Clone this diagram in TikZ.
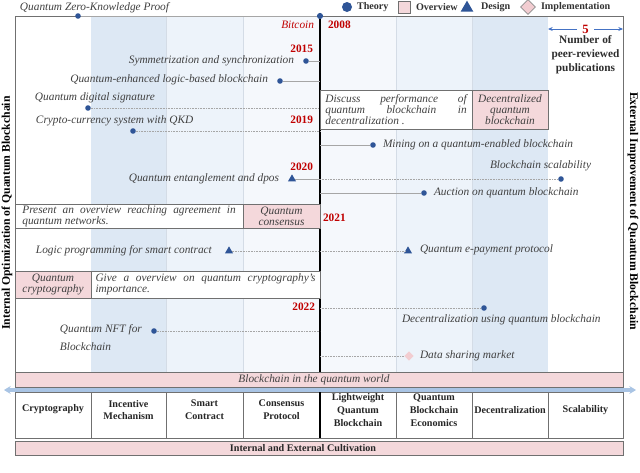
\documentclass[tikz,border=0pt]{standalone}
\usepackage{fontspec}
\setmainfont{Liberation Serif}
\usetikzlibrary{arrows.meta,shapes.geometric}
\definecolor{dotblue}{HTML}{2F5597}
\definecolor{yearred}{HTML}{C00000}
\definecolor{pinkf}{HTML}{F4D8DB}
\definecolor{pinkd}{HTML}{F2CDD1}
\definecolor{colA}{HTML}{DDE8F4}
\definecolor{colB}{HTML}{EDF3FA}
\definecolor{colC}{HTML}{F5F8FC}
\definecolor{colline}{HTML}{D4DCE6}
\definecolor{txtgray}{HTML}{404040}
\definecolor{boxgray}{HTML}{707070}
\definecolor{linegray}{HTML}{A6A6A6}
\definecolor{arrowblue}{HTML}{A9C4E4}
\definecolor{numblue}{HTML}{4472C4}
\begin{document}
\begin{tikzpicture}[x=0.75pt,y=-0.75pt,
  every node/.style={inner sep=0pt,outer sep=0pt},
  entry/.style={font=\fontsize{8.5}{8.3}\selectfont\itshape,text=txtgray},
  yr/.style={font=\fontsize{8.5}{9}\selectfont\bfseries,text=yearred},
  legtxt/.style={font=\fontsize{7.6}{9}\selectfont\bfseries,text=txtgray!80!black},
  cattxt/.style={font=\fontsize{7.6}{9.6}\selectfont\bfseries,text=black!85,align=center},
  side/.style={font=\fontsize{8.8}{10}\selectfont\bfseries,text=black},
  theory/.style={circle,fill=dotblue,minimum size=4.2pt},
  design/.style={regular polygon,regular polygon sides=3,fill=dotblue,minimum size=7pt},
  impl/.style={diamond,fill=pinkd,minimum size=7pt},
  conn/.style={draw=linegray,line width=0.5pt},
  connd/.style={conn,dash pattern=on 0.6pt off 0.6pt},
  wbox/.style={draw=boxgray,fill=white,line width=0.6pt,anchor=north west,entry,align=justify},
  pbox/.style={draw=boxgray,fill=pinkf,line width=0.6pt,anchor=north west,entry,align=center},
  cell/.style={draw=boxgray,fill=white,line width=0.6pt,anchor=north west,minimum height=34.5pt},
  pbar/.style={draw=boxgray,fill=pinkf,line width=0.6pt,anchor=north west,minimum width=456pt}
]
\fill[white] (0,0) rectangle (640,472);
\useasboundingbox (0,0) rectangle (640,472);

% column shading
\fill[colA] (91,16) rectangle (166,372);
\fill[colB] (166,16) rectangle (243,372);
\fill[colC] (243,16) rectangle (396,372);
\fill[colB] (396,16) rectangle (472,372);
\fill[colA] (472,16) rectangle (548,372);
\foreach \xx in {166,243,396,472}{\draw[colline,line width=0.5pt] (\xx,16) -- (\xx,372);}

% frame
\draw[boxgray,line width=0.6pt] (15,16) rectangle (623,438);

% axis
\coordinate (axtop) at (320,16);
\coordinate (axbot) at (320,372);
\draw[black,line width=1.1pt] (axtop) -- (axbot);

% legend
\node[theory,minimum size=7.5pt] (lgT) at (347,7) {};
\node[legtxt,anchor=west] (lgTt) at (357,7) {Theory};
\node[draw=boxgray,fill=pinkf,line width=0.5pt,minimum size=9pt] (lgO) at (404,7) {};
\node[legtxt,anchor=west] (lgOt) at (416,7) {Overview};
\node[design,minimum size=11pt] (lgD) at (467,8) {};
\node[legtxt,anchor=west] (lgDt) at (481,7) {Design};
\node[diamond,draw=boxgray!80,fill=pinkd,line width=0.5pt,minimum size=11pt] (lgI) at (528,7) {};
\node[legtxt,anchor=west] (lgIt) at (541,7) {Implementation};

% number of publications
\coordinate (n5l) at (548,29);
\coordinate (n5r) at (623,29);
\node[yr,font=\fontsize{9.5}{10}\selectfont\bfseries,inner xsep=4pt] (n5) at (585.5,29) {5};
\draw[numblue,line width=0.6pt,-{Stealth[length=3.5pt,width=3pt]}] (n5) -- (n5l);
\draw[numblue,line width=0.6pt,-{Stealth[length=3.5pt,width=3pt]}] (n5) -- (n5r);
\node[font=\fontsize{8.5}{10.3}\selectfont\bfseries,text=txtgray!70!black,align=center,anchor=north] (npub) at (585.5,36) {Number of\\peer-reviewed\\publications};

% top: Bitcoin 2008, QZKP
\node[theory,minimum size=4.6pt] (btc) at (axtop) {};
\node[entry,text=yearred,anchor=east] (btct) at (314,25) {Bitcoin};
\node[yr,anchor=west] (y2008) at (328,25) {2008};
\node[entry,anchor=west] (qzkpt) at (20,8) {Quantum Zero-Knowledge Proof};
\node[theory] (qzkp) at (78,16) {};
\draw[conn] (qzkp) -- (btc);

% 2015
\node[yr,anchor=east] (y2015) at (313,49) {2015};
\node[theory] (sym) at (306,61) {};
\node[entry,anchor=east] (symt) at (294,61) {Symmetrization and synchronization};
\coordinate (a1) at (320,61);
\draw[conn] (sym) -- (a1);

\node[theory] (qel) at (280,81) {};
\node[entry,anchor=east] (qelt) at (268,80) {Quantum-enhanced logic-based blockchain};
\coordinate (a2) at (320,81);
\draw[conn] (qel) -- (a2);

\node[entry,anchor=west] (qdst) at (35,98) {Quantum digital signature};
\node[theory] (qds) at (88,108) {};
\coordinate (a3) at (320,108);
\draw[connd] (qds) -- (a3);

% 2019
\node[yr,anchor=east] (y2019) at (313,120) {2019};
\node[entry,anchor=west] (cryt) at (36,121) {Crypto-currency system with QKD};
\node[theory] (cry) at (133,131) {};
\coordinate (a4) at (320,131);
\draw[connd] (cry) -- (a4);

% right overview box
\node[wbox,minimum width=114pt,minimum height=29.25pt,text width=106pt,inner xsep=4pt] (ov3) at (320,90)
  {Discuss performance of\linebreak quantum blockchain in\linebreak decentralization .};
\node[pbox,minimum width=57pt,minimum height=29.25pt] (dqb) at (472,90) {Decentralized\\quantum\\blockchain};

% right entries
\coordinate (a5) at (320,145);
\node[theory] (mine) at (373,145) {};
\node[entry,anchor=west] (minet) at (383,145) {Mining on a quantum-enabled blockchain};
\draw[conn] (a5) -- (mine);

% 2020
\node[yr,anchor=east] (y2020) at (313,167) {2020};
\node[entry,anchor=east] (entt) at (279,179) {Quantum entanglement and dpos};
\node[design] (ent) at (292,179) {};
\coordinate (a6) at (320,179);
\draw[conn] (ent) -- (a6);

\node[entry,anchor=west] (scalt) at (490,166) {Blockchain scalability};
\node[theory] (scal) at (561,179) {};
\draw[connd] (a6) -- (scal);

\coordinate (a7) at (320,193);
\node[theory] (auc) at (424,193) {};
\node[entry,anchor=west] (auct) at (434,193) {Auction on quantum blockchain};
\draw[conn] (a7) -- (auc);

% consensus row
\node[wbox,minimum width=171pt,minimum height=18pt,text width=160pt,inner xsep=5.5pt] (ov1) at (15,204)
  {Present an overview reaching agreement in\linebreak quantum networks.};
\node[pbox,minimum width=57.75pt,minimum height=18pt] (qcons) at (243,204) {Quantum\\consensus};

% 2021
\node[yr,anchor=west] (y2021) at (323,218) {2021};

% logic programming / e-payment
\node[entry,anchor=west] (lpt) at (36,251) {Logic programming for smart contract};
\node[design] (lp) at (229,251) {};
\coordinate (a8) at (320,251);
\draw[connd] (lp) -- (a8);
\node[design] (epay) at (408,251) {};
\node[entry,anchor=west] (epayt) at (420,250) {Quantum e-payment protocol};
\draw[connd] (a8) -- (epay);

% cryptography row
\node[pbox,minimum width=57pt,minimum height=20.25pt] (qcry) at (15,271) {Quantum\\cryptography};
\node[wbox,minimum width=171.75pt,minimum height=20.25pt,text width=165pt,inner xsep=3.4pt] (ov2) at (91,271)
  {Give a overview on quantum cryptography's\linebreak importance.};

% 2022
\node[yr,anchor=east] (y2022) at (315,307) {2022};
\coordinate (a9) at (320,308);
\node[theory] (dec) at (484,308) {};
\node[entry,anchor=west] (dect) at (402,320) {Decentralization using quantum blockchain};
\draw[connd] (a9) -- (dec);

\node[entry,anchor=north west,align=left] (nftt) at (60,325) {Quantum NFT for\\[5pt]Blockchain};
\node[theory] (nft) at (154,331) {};
\coordinate (a10) at (320,331);
\draw[connd] (nft) -- (a10);

\coordinate (a11) at (320,356);
\node[impl] (dsm) at (409,356) {};
\node[entry,anchor=west] (dsmt) at (420,356) {Data sharing market};
\draw[connd] (a11) -- (dsm);

% blockchain in quantum world bar
\node[pbar,minimum height=11.25pt] (bqw) at (15,372) {};
\node[entry] (bqwt) at (314,380) {Blockchain in the quantum world};

% blue double arrow
\coordinate (arl) at (4,390);
\coordinate (arr) at (636,390);
\draw[arrowblue,line width=2.4pt,{Stealth[length=5pt,width=6pt]}-{Stealth[length=5pt,width=6pt]}] (arl) -- (arr);

% category cells
\node[cell,minimum width=57pt] (c1) at (15,392) {};
\node[cell,minimum width=56.25pt] (c2) at (91,392) {};
\node[cell,minimum width=57.75pt] (c3) at (166,392) {};
\node[cell,minimum width=57.75pt] (c4) at (243,392) {};
\node[cell,minimum width=57pt] (c5) at (320,392) {};
\node[cell,minimum width=57pt] (c6) at (396,392) {};
\node[cell,minimum width=57pt] (c7) at (472,392) {};
\node[cell,minimum width=56.25pt] (c8) at (548,392) {};
\draw[black,line width=1.1pt] (c4.north east) -- (c4.south east);
\node[cattxt] (t1) at (53,409) {Cryptography};
\node[cattxt] (t2) at (128.5,410) {Incentive\\Mechanism};
\node[cattxt] (t3) at (204.5,410) {Smart\\Contract};
\node[cattxt] (t4) at (281.5,410) {Consensus\\Protocol};
\node[cattxt] (t5) at (358,410) {Lightweight\\Quantum\\Blockchain};
\node[cattxt] (t6) at (434,410) {Quantum\\Blockchain\\Economics};
\node[cattxt] (t7) at (510,410) {Decentralization};
\node[cattxt] (t8) at (585.5,410) {Scalability};

% cultivation bar
\node[pbar,minimum height=10.5pt] (cult) at (15,441) {};
\node[cattxt] (cultt) at (303,448) {Internal and External Cultivation};

% side titles
\node[side,rotate=90] (lside) at (7,213) {Internal Optimization of Quantum Blockchain};
\node[side,rotate=-90] (rside) at (633,211) {External Improvement of Quantum Blockchain};
\end{tikzpicture}
\end{document}
